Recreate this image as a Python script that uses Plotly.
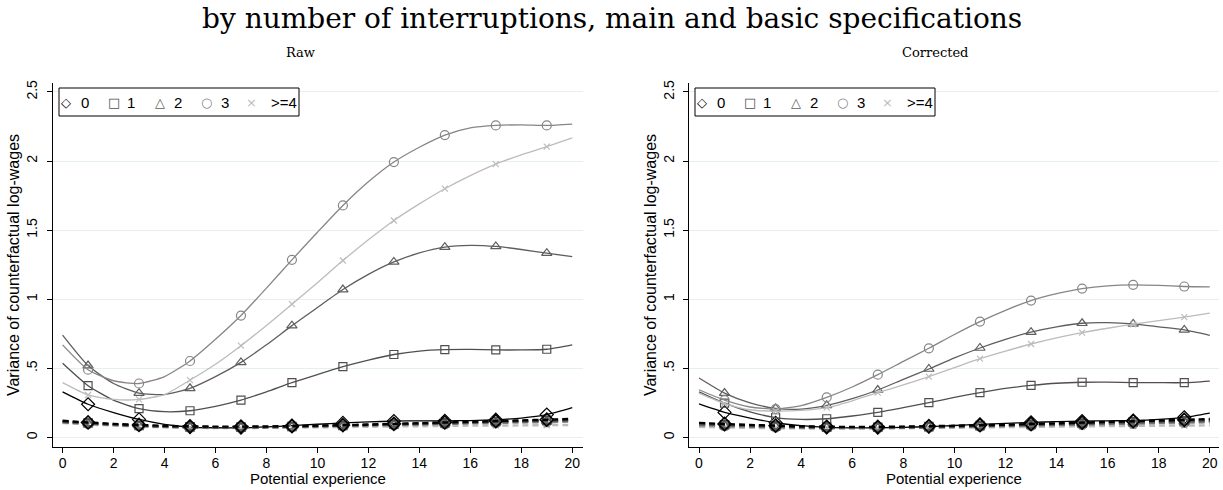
import plotly.graph_objects as go

W, H = 1223, 490
ML, MR, MT, MB = 53, 4, 83, 43
PW, PH = W - ML - MR, H - MT - MB

experience = list(range(21))
groups = ["0", "1", "2", "3", ">=4"]

# Raw panel, main specification (solid)
raw_main = {
    "0":   [0.330, 0.240, 0.180, 0.130, 0.095, 0.075, 0.070, 0.070, 0.076, 0.085, 0.095, 0.105, 0.112, 0.118, 0.120, 0.120, 0.122, 0.128, 0.140, 0.165, 0.215],
    "1":   [0.536, 0.374, 0.270, 0.208, 0.186, 0.193, 0.225, 0.270, 0.330, 0.396, 0.455, 0.512, 0.560, 0.600, 0.625, 0.635, 0.637, 0.633, 0.633, 0.638, 0.670],
    "2":   [0.740, 0.520, 0.390, 0.320, 0.310, 0.355, 0.440, 0.543, 0.670, 0.809, 0.940, 1.070, 1.180, 1.270, 1.335, 1.377, 1.390, 1.382, 1.360, 1.333, 1.309],
    "3":   [0.670, 0.490, 0.410, 0.390, 0.440, 0.553, 0.710, 0.882, 1.080, 1.285, 1.485, 1.679, 1.850, 1.993, 2.100, 2.188, 2.240, 2.258, 2.262, 2.258, 2.268],
    ">=4": [0.396, 0.307, 0.275, 0.275, 0.310, 0.415, 0.530, 0.664, 0.810, 0.964, 1.120, 1.280, 1.430, 1.570, 1.690, 1.800, 1.895, 1.978, 2.045, 2.104, 2.167],
}
# Raw panel, basic specification (dashed)
raw_basic = {
    "0":   [0.120, 0.108, 0.098, 0.090, 0.084, 0.080, 0.078, 0.078, 0.079, 0.082, 0.085, 0.089, 0.093, 0.098, 0.103, 0.108, 0.113, 0.118, 0.123, 0.128, 0.134],
    "1":   [0.115, 0.104, 0.094, 0.086, 0.080, 0.076, 0.074, 0.074, 0.076, 0.079, 0.083, 0.087, 0.091, 0.096, 0.100, 0.105, 0.110, 0.115, 0.119, 0.124, 0.129],
    "2":   [0.112, 0.101, 0.092, 0.084, 0.078, 0.074, 0.072, 0.072, 0.074, 0.077, 0.081, 0.085, 0.089, 0.093, 0.097, 0.101, 0.106, 0.110, 0.114, 0.118, 0.122],
    "3":   [0.108, 0.098, 0.089, 0.082, 0.076, 0.072, 0.070, 0.070, 0.072, 0.075, 0.078, 0.082, 0.086, 0.089, 0.093, 0.097, 0.101, 0.104, 0.108, 0.111, 0.115],
    ">=4": [0.104, 0.094, 0.085, 0.078, 0.073, 0.070, 0.068, 0.068, 0.069, 0.071, 0.073, 0.075, 0.077, 0.079, 0.081, 0.083, 0.085, 0.086, 0.087, 0.089, 0.090],
}
# Corrected panel, main specification (solid)
cor_main = {
    "0":   [0.242, 0.181, 0.140, 0.106, 0.085, 0.072, 0.069, 0.070, 0.073, 0.078, 0.086, 0.094, 0.102, 0.109, 0.114, 0.118, 0.120, 0.122, 0.130, 0.145, 0.176],
    "1":   [0.330, 0.248, 0.185, 0.143, 0.130, 0.135, 0.155, 0.181, 0.215, 0.251, 0.290, 0.324, 0.355, 0.376, 0.392, 0.399, 0.400, 0.397, 0.396, 0.396, 0.408],
    "2":   [0.430, 0.321, 0.250, 0.210, 0.205, 0.232, 0.280, 0.343, 0.420, 0.495, 0.575, 0.647, 0.710, 0.762, 0.800, 0.826, 0.830, 0.821, 0.800, 0.778, 0.739],
    "3":   [0.345, 0.270, 0.220, 0.205, 0.230, 0.290, 0.365, 0.454, 0.550, 0.645, 0.745, 0.838, 0.920, 0.990, 1.040, 1.077, 1.097, 1.104, 1.100, 1.092, 1.089],
    ">=4": [0.320, 0.245, 0.200, 0.190, 0.195, 0.215, 0.265, 0.324, 0.380, 0.440, 0.505, 0.570, 0.625, 0.676, 0.720, 0.758, 0.790, 0.819, 0.845, 0.870, 0.899],
}
# Corrected panel, basic specification (dashed)
cor_basic = {
    "0":   [0.105, 0.097, 0.090, 0.085, 0.080, 0.077, 0.076, 0.076, 0.078, 0.081, 0.084, 0.088, 0.092, 0.097, 0.102, 0.107, 0.112, 0.117, 0.122, 0.127, 0.133],
    "1":   [0.100, 0.092, 0.086, 0.081, 0.077, 0.074, 0.073, 0.073, 0.075, 0.078, 0.081, 0.085, 0.089, 0.094, 0.098, 0.103, 0.108, 0.112, 0.117, 0.121, 0.126],
    "2":   [0.095, 0.088, 0.082, 0.078, 0.074, 0.071, 0.070, 0.070, 0.072, 0.075, 0.078, 0.082, 0.086, 0.090, 0.094, 0.098, 0.102, 0.106, 0.110, 0.114, 0.118],
    "3":   [0.088, 0.082, 0.077, 0.073, 0.070, 0.068, 0.067, 0.068, 0.069, 0.072, 0.075, 0.078, 0.082, 0.085, 0.089, 0.092, 0.096, 0.099, 0.103, 0.106, 0.110],
    ">=4": [0.076, 0.072, 0.069, 0.067, 0.065, 0.064, 0.064, 0.065, 0.066, 0.068, 0.070, 0.072, 0.074, 0.076, 0.078, 0.080, 0.082, 0.083, 0.085, 0.086, 0.087],
}

x_ticks = [0, 2, 4, 6, 8, 10, 12, 14, 16, 18, 20]
y_ticks = [0, 0.5, 1, 1.5, 2, 2.5]
y_tick_text = ["0", ".5", "1", "1.5", "2", "2.5"]

colors = {"0": "#000000", "1": "#4f4f4f", "2": "#5e5e5e", "3": "#868686", ">=4": "#bcbcbc"}
symbols = {"0": "diamond-open", "1": "square-open", "2": "triangle-up-open", "3": "circle-open", ">=4": "x-thin-open"}
msizes = {"0": 10, "1": 8, "2": 9, "3": 9, ">=4": 6}
glyphs = {"0": "◇", "1": "□", "2": "△", "3": "○", ">=4": "×"}

SANS = "Liberation Sans, Arial, sans-serif"
SERIF = "DejaVu Serif, serif"

fig = go.Figure()


def add_panel(main, basic, xa, ya):
    # main specification: solid lines with markers at odd experience
    for g in groups:
        fig.add_trace(go.Scatter(
            x=experience, y=main[g], mode="lines", xaxis=xa, yaxis=ya,
            line=dict(color=colors[g], width=1.3, shape="spline", smoothing=0.6),
            showlegend=False, hoverinfo="skip"))
        fig.add_trace(go.Scatter(
            x=experience[1::2], y=main[g][1::2], mode="markers", xaxis=xa, yaxis=ya,
            marker=dict(symbol=symbols[g], size=msizes[g], color=colors[g],
                        line=dict(color=colors[g], width=1.2)),
            showlegend=False, hoverinfo="skip"))
    # basic specification: dashed lines
    for g in reversed(groups):
        fig.add_trace(go.Scatter(
            x=experience, y=basic[g], mode="lines", xaxis=xa, yaxis=ya,
            line=dict(color=colors[g], width=2.4, dash="6px,4px", shape="spline", smoothing=0.6),
            showlegend=False, hoverinfo="skip"))
        fig.add_trace(go.Scatter(
            x=experience[1::2], y=basic[g][1::2], mode="markers", xaxis=xa, yaxis=ya,
            marker=dict(symbol=symbols[g], size=msizes[g], color=colors[g],
                        line=dict(color=colors[g], width=1.6)),
            showlegend=False, hoverinfo="skip"))


add_panel(raw_main, raw_basic, "x", "y")
add_panel(cor_main, cor_basic, "x2", "y2")

axis_common = dict(showline=True, linecolor="#000000", linewidth=1, ticks="outside",
                   ticklen=5, tickcolor="#000000", tickwidth=1, zeroline=False,
                   tickfont=dict(family=SANS, size=14, color="#000000"))
xcommon = dict(axis_common, tickmode="array", tickvals=x_ticks, showgrid=False, ticklabelstandoff=-2)
ycommon = dict(axis_common, tickmode="array", tickvals=y_ticks, ticktext=y_tick_text,
               tickangle=-90, showgrid=True, gridcolor="#e5eef0", gridwidth=1,
               range=[-0.0695, 2.565], ticklabelstandoff=4,
               title=dict(text="Variance of counterfactual log-wages", font=dict(family=SANS, size=16, color="#000000"), standoff=0))

d1 = (582.7 - ML) / PW
d2 = (689.3 - ML) / PW
fig.update_layout(
    xaxis=dict(xcommon, domain=[0, d1], range=[-0.376, 20.41], anchor="y"),
    yaxis=dict(ycommon, domain=[0, 1], anchor="x"),
    xaxis2=dict(xcommon, domain=[d2, 1], range=[-0.38, 20.36], anchor="y2"),
    yaxis2=dict(ycommon, domain=[0, 1], anchor="x2"),
)


def px_x(p):
    return (p - ML) / PW


def px_y(p):
    return (H - MB - p) / PH


annotations = [
    dict(text="by number of interruptions, main and basic specifications", x=px_x(612), y=px_y(19),
         xref="paper", yref="paper", showarrow=False, xanchor="center", yanchor="middle",
         font=dict(family=SERIF, size=28, color="#000000")),
    dict(text="Raw", x=px_x(300), y=px_y(52), xref="paper", yref="paper", showarrow=False,
         xanchor="center", yanchor="middle", font=dict(family=SERIF, size=13, color="#000000")),
    dict(text="Corrected", x=px_x(935), y=px_y(52), xref="paper", yref="paper", showarrow=False,
         xanchor="center", yanchor="middle", font=dict(family=SERIF, size=13, color="#000000")),
    dict(text="Potential experience", x=px_x(317.7), y=px_y(479), xref="paper", yref="paper",
         showarrow=False, xanchor="center", yanchor="middle", font=dict(family=SANS, size=15, color="#000000")),
    dict(text="Potential experience", x=px_x(954.3), y=px_y(479), xref="paper", yref="paper",
         showarrow=False, xanchor="center", yanchor="middle", font=dict(family=SANS, size=15, color="#000000")),
]
shapes = []

glyph_x = [66, 114, 160, 206, 251]
text_x = [79, 125, 172, 219, 269]
for off in (0, 636):
    shapes.append(dict(type="rect", xref="paper", yref="paper",
                       x0=px_x(59 + off), x1=px_x(299 + off), y0=px_y(116), y1=px_y(88),
                       line=dict(color="#000000", width=1), fillcolor="#ffffff", layer="above"))
    for g, gx, tx in zip(groups, glyph_x, text_x):
        annotations.append(dict(text=glyphs[g], x=px_x(gx + off), y=px_y(102), xref="paper", yref="paper",
                                showarrow=False, xanchor="center", yanchor="middle",
                                font=dict(family="DejaVu Sans", size=13, color=colors[g])))
        annotations.append(dict(text=g, x=px_x(tx + off), y=px_y(102), xref="paper", yref="paper",
                                showarrow=False, xanchor="left", yanchor="middle",
                                font=dict(family=SANS, size=15, color="#000000")))

fig.update_layout(
    width=W, height=H, margin=dict(l=ML, r=MR, t=MT, b=MB, autoexpand=False),
    paper_bgcolor="#ffffff", plot_bgcolor="#ffffff",
    showlegend=False, annotations=annotations, shapes=shapes,
)

fig.write_html("out.html")
